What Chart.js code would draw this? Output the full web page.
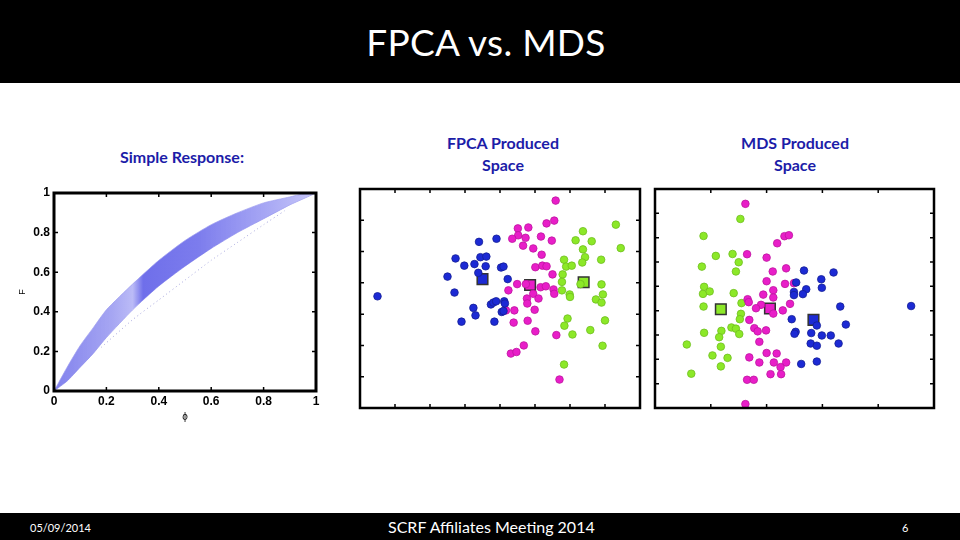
<!DOCTYPE html>
<html>
<head>
<meta charset="utf-8">
<script src="https://cdn.jsdelivr.net/npm/chart.js@4.4.0/dist/chart.umd.min.js"></script>
<style>
  html, body { margin: 0; padding: 0; }
  body { width: 960px; height: 540px; position: relative; background: #fff; overflow: hidden; font-family: Lato, "Open Sans", sans-serif; }
  .bar { position: absolute; left: 0; width: 960px; background: #000; color: #fff; }
  #top { top: 0; height: 83px; }
  #top h1 { margin: 0; position: absolute; left: 0; width: 972px; top: 19px; text-align: center; font-weight: normal; font-size: 37px; letter-spacing: 0.3px; }
  #bottom { top: 513px; height: 27px; }
  .foot { position: absolute; top: 5px; }
  .sub { position: absolute; color: #1c1ca8; font-weight: bold; font-size: 16px; text-align: center; line-height: 22px; }
  canvas { position: absolute; }
</style>
</head>
<body>
<div class="bar" id="top"><h1>FPCA vs. MDS</h1></div>

<div class="sub" style="left:102px; top:146px; width:160px;">Simple Response:</div>
<div class="sub" style="left:423px; top:132px; width:160px;">FPCA Produced<br>Space</div>
<div class="sub" style="left:715px; top:132px; width:160px;">MDS Produced<br>Space</div>

<canvas id="c1" width="318" height="250" style="left:12px; top:180px;"></canvas>
<canvas id="c2" width="300" height="240" style="left:350px; top:180px;"></canvas>
<canvas id="c3" width="300" height="240" style="left:645px; top:180px;"></canvas>

<div class="bar" id="bottom">
  <span class="foot" style="left:30px; font-size:11px; top:8px;">05/09/2014</span>
  <span class="foot" style="left:388px; font-size:16px; top:4px;">SCRF Affiliates Meeting 2014</span>
  <span class="foot" style="left:902px; font-size:11px; top:8px;">6</span>
</div>

<script>
// --- simple response band (phi vs F) ---
const phi      = [0, 0.05, 0.1, 0.15, 0.2, 0.3, 0.4, 0.5, 0.6, 0.7, 0.8, 0.9, 0.95, 1.0];
const bandHigh = [0, 0.12, 0.23, 0.32, 0.41, 0.54, 0.66, 0.76, 0.84, 0.90, 0.95, 0.98, 0.995, 1.0];
const bandLow  = [0, 0.05, 0.12, 0.19, 0.27, 0.41, 0.53, 0.63, 0.72, 0.80, 0.87, 0.94, 0.97, 1.0];
const dotPhi   = [0.18, 0.3, 0.4, 0.5, 0.6, 0.7, 0.8, 0.88];
const dotF     = [0.22, 0.36, 0.46, 0.56, 0.66, 0.75, 0.84, 0.91];
const unitTicks = [0, 0.2, 0.4, 0.6, 0.8, 1];

// --- FPCA space [x, y] ---
const fpcaBlue = [[-3.50,0.07],[-1.50,0.70],[-1.30,0.19],[-1.27,1.28],[-1.02,1.05],[-0.73,1.10],[-0.60,1.81],
  [-0.56,1.32],[-0.39,1.34],[-0.41,1.03],[-0.10,1.91],[0.03,0.99],[0.10,1.02],[-0.62,0.82],[0.22,0.62],
  [-0.76,-0.30],[-0.70,-0.54],[-1.10,-0.74],[-0.16,-0.74],[-0.26,-0.19],[-0.19,-0.13],[-0.11,-0.09],
  [0.12,-0.09],[0.14,-0.16],[0.05,-0.43],[0.10,-0.40]];
const fpcaPink = [[1.59,3.13],[1.55,2.49],[1.33,2.40],[0.51,2.24],[0.81,2.27],[0.52,2.02],[0.35,1.91],
  [0.73,1.94],[1.17,1.98],[1.48,1.85],[0.66,1.69],[0.95,1.60],[1.19,1.40],[1.01,1.00],[1.21,1.05],
  [1.33,1.03],[1.50,0.77],[0.49,0.46],[0.74,0.46],[1.16,0.36],[1.31,0.39],[1.53,0.29],[1.55,0.15],
  [0.24,0.26],[0.95,0.15],[0.77,0.00],[1.10,0.00],[0.78,-0.16],[0.99,-0.36],[0.41,-0.38],[0.17,-0.38],
  [0.39,-0.77],[0.79,-0.71],[1.01,-1.05],[1.61,-1.17],[0.68,-1.50],[0.31,-1.76],[0.47,-1.71],[1.70,-2.59]];
const fpcaGreen = [[3.31,2.36],[3.45,1.61],[2.37,2.15],[2.16,1.86],[2.62,1.83],[2.37,1.57],[2.43,1.32],
  [2.35,1.15],[1.83,1.24],[1.89,1.02],[2.05,1.05],[2.89,1.24],[1.79,0.77],[1.77,0.53],[1.77,0.26],
  [1.99,0.13],[2.00,0.05],[2.90,0.45],[2.94,0.13],[2.74,-0.03],[2.90,-0.13],[3.00,-0.70],[1.93,-0.64],
  [1.84,-0.87],[2.58,-1.01],[2.07,-1.15],[2.93,-1.51],[1.83,-2.11],[2.30,0.46]];
const fpcaCenters = [[-0.50,0.62],[0.86,0.43],[2.39,0.52]]; // blue, pink, green
const fpcaXTicks = [-4,-3,-2,-1,0,1,2,3,4];
const fpcaYTicks = [-3.5,-2.5,-1.5,-0.5,0.5,1.5,2.5,3.5];

// --- MDS space [x, y] ---
const mdsPink = [[-0.88,3.89],[-0.85,1.82],[-0.50,1.68],[-0.31,2.27],[-0.18,2.56],[-0.10,2.60],[-0.15,1.24],
  [-0.39,1.11],[-0.50,0.71],[-0.17,0.60],[-0.01,0.63],[-0.56,0.16],[-0.38,0.34],[-0.38,0.04],[-0.84,-0.03],
  [-0.82,-0.15],[-0.60,-0.26],[-0.69,-0.40],[-0.21,-0.49],[-0.08,-0.22],[-0.38,-0.62],[-0.81,-0.88],
  [-0.72,-1.22],[-0.66,-1.35],[-0.51,-1.31],[-0.63,-1.78],[-0.50,-2.24],[-0.32,-2.26],[-0.81,-2.42],
  [-0.63,-2.63],[-0.37,-2.63],[-0.15,-2.63],[-0.25,-2.82],[-0.43,-3.11],[-0.24,-3.11],[-0.85,-3.34],
  [-0.73,-3.34],[-0.88,-4.34]];
const mdsGreen = [[-0.97,3.27],[-1.63,2.57],[-1.41,1.75],[-1.11,1.83],[-1.00,1.49],[-1.66,1.31],[-1.05,1.11],
  [-1.62,0.48],[-1.64,0.19],[-1.52,0.29],[-1.09,0.22],[-1.63,-0.33],[-0.95,-0.19],[-0.96,-0.63],
  [-0.98,-0.85],[-1.62,-1.41],[-1.31,-1.33],[-1.13,-1.19],[-1.05,-1.24],[-0.99,-1.46],[-1.35,-1.59],
  [-1.93,-1.89],[-1.32,-1.98],[-1.47,-2.34],[-1.20,-2.44],[-1.32,-2.79],[-1.85,-3.09]];
const mdsBlue = [[0.17,1.15],[0.70,1.07],[0.48,0.79],[0.03,0.66],[0.49,0.44],[0.21,0.38],[-0.01,0.27],
  [-0.01,0.14],[0.15,0.18],[0.82,-0.33],[2.09,-0.31],[-0.05,-0.85],[0.40,-1.11],[0.92,-1.07],[0.02,-1.37],
  [0.00,-1.45],[0.30,-1.42],[0.49,-1.52],[0.65,-1.52],[0.29,-1.85],[0.40,-1.94],[0.79,-1.85],[0.12,-2.69],
  [0.40,-2.59]];
const mdsCenters = [[0.34,-0.88],[-0.44,-0.41],[-1.32,-0.44]]; // blue, pink, green
const mdsXTicks = [-2.5,-1.5,-0.5,0.5,1.5,2.5];
const mdsYTicks = [-4.5,-3.5,-2.5,-1.5,-0.5,0.5,1.5,2.5,3.5,4.5];

const BLUE = 'rgb(28,42,212)', PINK = 'rgb(232,30,200)', GREEN = 'rgb(140,232,40)';
const BLUE_E = 'rgb(20,30,150)', PINK_E = 'rgb(190,20,160)', GREEN_E = 'rgb(110,190,30)';

const toXY = arr => arr.map(p => ({x: p[0], y: p[1]}));
const zip = (xs, ys) => xs.map((x, i) => ({x: x, y: ys[i]}));

// frame box plus inward tick marks on all four sides
const frameTicks = {
  id: 'frameTicks',
  afterDraw(chart, args, opts) {
    const {ctx, chartArea: a} = chart;
    const sx = chart.scales.x, sy = chart.scales.y;
    const L = opts.len || 4;
    ctx.save();
    ctx.strokeStyle = '#000';
    ctx.lineWidth = 1.5;
    ctx.beginPath();
    sx.ticks.forEach(t => {
      const px = sx.getPixelForValue(t.value);
      ctx.moveTo(px, a.bottom); ctx.lineTo(px, a.bottom - L);
      ctx.moveTo(px, a.top); ctx.lineTo(px, a.top + L);
    });
    sy.ticks.forEach(t => {
      const py = sy.getPixelForValue(t.value);
      ctx.moveTo(a.left, py); ctx.lineTo(a.left + L, py);
      ctx.moveTo(a.right, py); ctx.lineTo(a.right - L, py);
    });
    ctx.stroke();
    ctx.lineWidth = opts.border || 2.5;
    ctx.strokeRect(a.left, a.top, a.right - a.left, a.bottom - a.top);
    ctx.restore();
  }
};

// band colour: darker in the middle, paler towards the ends
function bandFill(context) {
  const area = context.chart.chartArea;
  if (!area) return 'rgb(140,140,240)';
  const g = context.chart.ctx.createLinearGradient(area.left, 0, area.right, 0);
  g.addColorStop(0.0, 'rgba(115,115,235,0.9)');
  g.addColorStop(0.22, 'rgba(150,150,240,0.85)');
  g.addColorStop(0.3, 'rgba(175,175,245,0.85)');
  g.addColorStop(0.34, 'rgba(95,95,232,0.9)');
  g.addColorStop(0.55, 'rgba(110,110,235,0.9)');
  g.addColorStop(0.8, 'rgba(150,150,242,0.85)');
  g.addColorStop(1.0, 'rgba(190,190,248,0.85)');
  return g;
}

const tickFont = { family: 'Liberation Sans', size: 12, weight: 'bold' };

// ---------- chart 1: simple response ----------
new Chart(document.getElementById('c1'), {
  type: 'line',
  data: {
    datasets: [
      { data: zip(phi, bandHigh), borderColor: 'rgba(160,160,240,0.7)', borderWidth: 1,
        backgroundColor: bandFill, fill: '+1', pointRadius: 0, tension: 0.2 },
      { data: zip(phi, bandLow), borderColor: 'rgba(140,140,235,0.7)', borderWidth: 1,
        pointRadius: 0, fill: false, tension: 0.2 },
      { data: zip(dotPhi, dotF), borderColor: 'rgba(110,110,200,0.6)', borderWidth: 1,
        borderDash: [1, 3], pointRadius: 0, fill: false, tension: 0.2 }
    ]
  },
  options: {
    responsive: false, animation: false,
    layout: { padding: { left: 0, top: 13, right: 14, bottom: 7 } },
    plugins: { legend: { display: false }, tooltip: { enabled: false }, frameTicks: { len: 4, border: 3 } },
    scales: {
      x: {
        type: 'linear', min: 0, max: 1,
        afterBuildTicks: s => { s.ticks = unitTicks.map(v => ({value: v})); },
        afterFit: s => { s.height = 32; },
        grid: { display: false, drawTicks: false }, border: { display: false },
        ticks: { color: '#000', padding: 3, font: tickFont, callback: v => String(+v.toFixed(1)) },
        title: { display: true, text: 'ϕ', color: '#000', padding: 0, font: { family: 'Liberation Sans', size: 10 } }
      },
      y: {
        min: 0, max: 1,
        afterBuildTicks: s => { s.ticks = unitTicks.map(v => ({value: v})); },
        afterFit: s => { s.width = 42; },
        grid: { display: false, drawTicks: false }, border: { display: false },
        ticks: { color: '#000', padding: 4, font: tickFont, callback: v => String(+v.toFixed(1)) },
        title: { display: true, text: 'F', color: '#000', padding: { top: 5, bottom: 0 }, font: { family: 'Liberation Sans', size: 9 } }
      }
    }
  },
  plugins: [frameTicks]
});

// ---------- scatter helper for charts 2 and 3 ----------
function spaceChart(id, groups, centers, xr, yr, xt, yt, pad) {
  const cols = [[BLUE, BLUE_E], [PINK, PINK_E], [GREEN, GREEN_E]];
  const sets = groups.map((g, i) => ({
    data: toXY(g), pointStyle: 'circle', pointRadius: 3.8,
    backgroundColor: cols[i][0], borderColor: cols[i][1], borderWidth: 0.8
  }));
  centers.forEach((c, i) => sets.push({
    data: toXY([c]), pointStyle: 'rect', pointRadius: 7.5,
    backgroundColor: cols[i][0], borderColor: '#333', borderWidth: 1.5
  }));
  return new Chart(document.getElementById(id), {
    type: 'scatter',
    data: { datasets: sets },
    options: {
      responsive: false, animation: false,
      layout: { padding: pad },
      plugins: { legend: { display: false }, tooltip: { enabled: false }, frameTicks: { len: 4, border: 2.5 } },
      scales: {
        x: { min: xr[0], max: xr[1], afterBuildTicks: s => { s.ticks = xt.map(v => ({value: v})); },
             afterFit: s => { s.height = 0; }, grid: { display: false }, border: { display: false },
             ticks: { display: false } },
        y: { min: yr[0], max: yr[1], afterBuildTicks: s => { s.ticks = yt.map(v => ({value: v})); },
             afterFit: s => { s.width = 0; }, grid: { display: false }, border: { display: false },
             ticks: { display: false } }
      }
    },
    plugins: [frameTicks]
  });
}

spaceChart('c2', [fpcaBlue, fpcaPink, fpcaGreen], fpcaCenters, [-4, 4], [-3.5, 3.5],
  fpcaXTicks, fpcaYTicks, { left: 10, top: 9, right: 10, bottom: 12 });
spaceChart('c3', [mdsBlue, mdsPink, mdsGreen], mdsCenters, [-2.5, 2.5], [-4.5, 4.5],
  mdsXTicks, mdsYTicks, { left: 10, top: 9, right: 11, bottom: 12 });
</script>
</body>
</html>
